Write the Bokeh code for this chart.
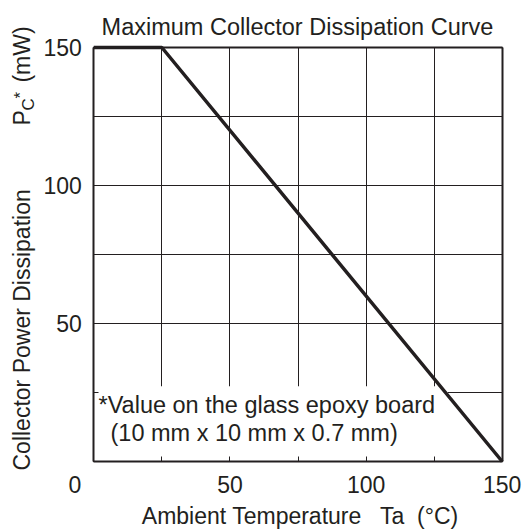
import math
from bokeh.plotting import figure
from bokeh.models import Range1d, Label, LinearAxis, Grid, FixedTicker
from bokeh.embed import file_html
from bokeh.resources import INLINE

# ---- data ----
temp_c = [0, 25, 150]          # Ambient temperature Ta (°C)
power_mw = [150, 150, 0]       # Pc* (mW)
x_ticks = [0, 25, 50, 75, 100, 125, 150]
y_ticks = [0, 25, 50, 75, 100, 125, 150]
x_tick_labels = {0: "", 25: "", 50: "50", 75: "", 100: "100", 125: "", 150: "150"}
y_tick_labels = {0: "", 25: "", 50: "50", 75: "", 100: "100", 125: "", 150: "150"}
x_lim = (0, 150)
y_lim = (0, 150)

INK = "#231f20"
FONT = "Liberation Sans"
FS = "23px"

# frame covers the whole canvas; axes are pinned at fixed data locations
W, H = 531, 530
px_left, px_right, px_top, px_bottom = 93.3, 501.7, 47.0, 461.0
sx = (px_right - px_left) / (x_lim[1] - x_lim[0])
sy = (px_bottom - px_top) / (y_lim[1] - y_lim[0])
xr = Range1d(x_lim[0] - px_left / sx, x_lim[0] + (W - px_left) / sx)
yr = Range1d(y_lim[0] - (H - px_bottom) / sy, y_lim[0] + px_bottom / sy)

p = figure(width=W, height=H, output_backend="svg", toolbar_location=None,
           x_range=xr, y_range=yr, x_axis_location=None, y_axis_location=None,
           min_border=0)
p.title.visible = False
p.outline_line_color = None
p.background_fill_color = "white"
p.border_fill_color = "white"
# drop the default grids
p.center = [r for r in p.center if not isinstance(r, Grid)]

try:
    for dim, ticks in ((0, x_ticks), (1, y_ticks)):
        g = Grid(dimension=dim, ticker=FixedTicker(ticks=ticks), bounds=x_lim,
                 cross_bounds=y_lim if dim == 0 else x_lim,
                 grid_line_color=INK, grid_line_width=1)
        p.add_layout(g)
except Exception:
    p.segment(x0=x_ticks, y0=[y_lim[0]] * len(x_ticks), x1=x_ticks, y1=[y_lim[1]] * len(x_ticks),
              line_color=INK, line_width=1)
    p.segment(x0=[x_lim[0]] * len(y_ticks), y0=y_ticks, x1=[x_lim[1]] * len(y_ticks), y1=y_ticks,
              line_color=INK, line_width=1)

def make_axis(loc, ticks, labels, side):
    ax = LinearAxis(fixed_location=loc, bounds=(0, 150), ticker=FixedTicker(ticks=ticks),
                    major_label_overrides=labels, major_tick_in=5, major_tick_out=0,
                    minor_tick_line_color=None, major_tick_line_color=INK,
                    axis_line_color=INK, axis_line_width=2,
                    major_label_text_font=FONT, major_label_text_font_size=FS,
                    major_label_text_color=INK)
    p.add_layout(ax, side)
    return ax

bx = make_axis(0, x_ticks, x_tick_labels, "below")
ly = make_axis(0, y_ticks, y_tick_labels, "left")
bx.major_label_standoff = 14
ly.major_label_standoff = 12
make_axis(150, [], {}, "above")
make_axis(150, [], {}, "right")

# white note box (hides grid lines behind the note)
p.quad(left=[1], right=[130], bottom=[1], top=[27.3], fill_color="white", line_color=None)

# derating curve
p.line(temp_c, power_mw, line_color=INK, line_width=3.5)

def lab(text, x, y, size=FS, align="left", angle=0.0):
    p.add_layout(Label(x=x, y=y, text=text, text_font=FONT, text_font_size=size,
                       text_color=INK, text_align=align, text_baseline="alphabetic",
                       angle=angle, angle_units="rad"))

lab("Maximum Collector Dissipation Curve", 74.8, 157.39, size="23.5px", align="center")
lab("Ambient Temperature\u00a0\u00a0 Ta\u00a0 (°C)", 75.9, -19.86, align="center")
lab("0", -6.9, -8.26, align="center")
lab("*Value on the glass epoxy board", 1.73, 20.43, size="23.5px")
lab("(10 mm x 10 mm x 0.7 mm)", 6.13, 10.29, size="23.5px")

rot = math.pi / 2
lab("Collector Power Dissipation", -26.26, -3.26, angle=rot)
lab("P", -26.26, 121.7, angle=rot)
lab("C", -24.02, 127.2, size="17px", angle=rot)
lab("*", -26.96, 131.5, size="17px", angle=rot)
lab("(mW)", -26.26, 137.3, angle=rot)

open("out.html", "w").write(file_html(p, INLINE))
